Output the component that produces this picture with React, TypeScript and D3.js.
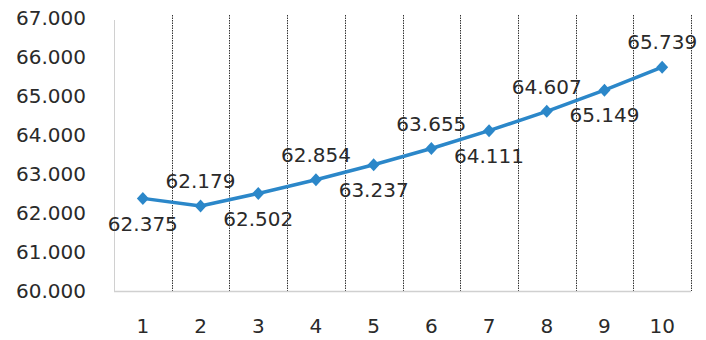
import React from "react";
import * as d3 from "d3";

const categories = ["1", "2", "3", "4", "5", "6", "7", "8", "9", "10"];
const values = [62.375, 62.179, 62.502, 62.854, 63.237, 63.655, 64.111, 64.607, 65.149, 65.739];
const yTicks = [60, 61, 62, 63, 64, 65, 66, 67];

const W = 706, H = 340;
const left = 114, right = 691, top = 18, bottom = 291;
const FONT = "'DejaVu Sans', sans-serif";
const BLUE = "#2b87c9";

export default function App() {
  const x = d3.scaleBand<string>().domain(categories).range([left, right]).padding(0);
  const y = d3.scaleLinear().domain([60, 67]).range([bottom, top]);
  const cx = (c: string) => (x(c) as number) + x.bandwidth() / 2;
  const line = d3.line<number>().x((_, i) => cx(categories[i])).y((v) => y(v));
  const fmt = (v: number) => v.toFixed(3);
  return (
    <svg width={W} height={H} style={{ position: "absolute", left: 0, top: 0, background: "#fff" }}>
      {categories.map((c) => {
        const gx = Math.round((x(c) as number) + x.bandwidth()) + 0.5;
        return (
          <line key={"g" + c} x1={gx} x2={gx} y1={15} y2={bottom} stroke="#333" strokeWidth={1} strokeDasharray="1.5 1" />
        );
      })}
      <line x1={left + 0.5} x2={left + 0.5} y1={20} y2={bottom} stroke="#d0d0d0" strokeWidth={1} />
      <line x1={left} x2={right} y1={bottom + 0.5} y2={bottom + 0.5} stroke="#d0d0d0" strokeWidth={1.5} />
      {yTicks.map((t) => (
        <text key={"y" + t} x={86} y={y(t)} dy="0.36em" textAnchor="end" fontFamily={FONT} fontSize={20} fill="#2a2a2a">
          {fmt(t)}
        </text>
      ))}
      {categories.map((c) => (
        <text key={"x" + c} x={cx(c)} y={326} dy="0.36em" textAnchor="middle" fontFamily={FONT} fontSize={20} fill="#2a2a2a">
          {c}
        </text>
      ))}
      <path d={line(values) || ""} fill="none" stroke={BLUE} strokeWidth={3.5} strokeLinejoin="round" />
      {values.map((v, i) => {
        const px = cx(categories[i]);
        const py = y(v);
        return (
          <path key={"m" + i} d={`M${px},${py - 6.5}L${px + 6},${py}L${px},${py + 6.5}L${px - 6},${py}Z`} fill={BLUE} />
        );
      })}
      {values.map((v, i) => {
        const px = cx(categories[i]);
        const py = y(v);
        const below = i % 2 === 0 && i !== 9;
        const ly = below ? py + 25 : py - 25;
        return (
          <text key={"l" + i} x={px} y={ly} dy="0.36em" textAnchor="middle" fontFamily={FONT} fontSize={20} fill="#2a2a2a">
            {fmt(v)}
          </text>
        );
      })}
    </svg>
  );
}
